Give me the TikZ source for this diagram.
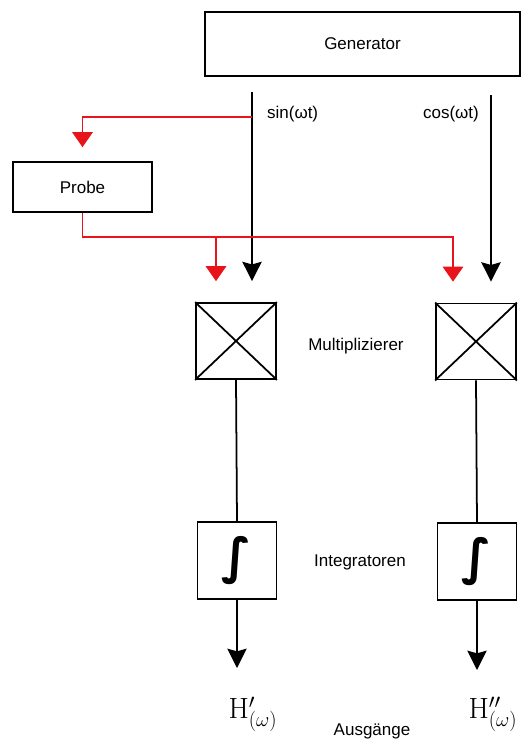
\documentclass[tikz,border=0pt]{standalone}
\usepackage[no-math]{fontspec}
\usepackage{fix-cm}
\setmainfont{Liberation Sans}
\newfontfamily\intfont{DejaVu Sans}
\usetikzlibrary{positioning,arrows.meta}
\definecolor{ProbeRed}{HTML}{E8141B}

\begin{document}
\begin{tikzpicture}[x=0.03cm,y=-0.03cm,>={Stealth[length=.58cm,width=.58cm,inset=.08cm]}]
\tikzstyle{block}=[draw,line width=1.5pt,inner sep=0pt]
\tikzstyle{mult}=[block,minimum width=2.4cm,minimum height=2.28cm]
\tikzstyle{integ}=[block,minimum width=2.37cm,minimum height=2.31cm,font=\intfont\bfseries\fontsize{42}{46}\selectfont]
\tikzstyle{sig}=[line width=1.5pt]
\tikzstyle{probeline}=[draw=ProbeRed,line width=1pt,-{Triangle[length=.45cm,width=.62cm]}]
\tikzstyle{lbl}=[font=\fontsize{14.5}{17}\selectfont]
\tikzstyle{outlbl}=[font=\fontsize{25}{29}\selectfont]
\useasboundingbox (0,0) rectangle (521,746);
% source and probe
\node[block,minimum width=9.45cm,minimum height=1.92cm,lbl] (gen) at (362.5,44) {Generator};
\node[block,minimum width=4.17cm,minimum height=1.5cm,lbl] (probe) at (82.5,187) {Probe};
\coordinate (sinA) at (252,92);
\coordinate (cosA) at (491,95);
\coordinate (tap) at (252,117);
\coordinate (busL) at (216,237);
\coordinate (busR) at (453,237);
\node[lbl,anchor=west] (sin) at (263,114) {sin(ωt)};
\node[lbl,anchor=east] (cos) at (483,114) {cos(ωt)};
% multipliers
\node[mult] (m1) at (236,341) {};
\node[mult] (m2) at (476,341.5) {};
\foreach \m in {m1,m2}{
  \draw[sig] (\m.north west)--(\m.south east) (\m.north east)--(\m.south west);
}
\node[lbl] (mlbl) at (356,346) {Multiplizierer};
% integrators
\node[integ] (i1) at (237,560.5) {∫};
\node[integ] (i2) at (477,561.5) {∫};
\node[lbl] (ilbl) at (360,562) {Integratoren};
% outputs
\coordinate (o1) at (237,668);
\coordinate (o2) at (477,670);
\node[outlbl] (h1) at (253,714) {$\mathrm{H}'_{(\omega)}$};
\node[outlbl] (h2) at (493,714) {$\mathrm{H}''_{(\omega)}$};
\node[lbl] (alb) at (372,731) {Ausgänge};
% signals
\draw[sig,->,shorten >=.63cm] (sinA) -- (sinA |- m1.north);
\draw[sig,->,shorten >=.63cm] (cosA) -- (cosA |- m2.north);
\draw[probeline,shorten >=.42cm] (tap) -| (probe.north);
\draw[probeline,shorten >=.63cm] (probe.south) |- (busR) -- (busR |- m2.north);
\draw[probeline,shorten >=.63cm] (busL) -- (busL |- m1.north);
\draw[sig] (m1.south) -- (i1.north);
\draw[sig] (m2.south) -- (i2.north);
\draw[sig,->] (i1.south) -- (o1);
\draw[sig,->] (i2.south) -- (o2);
\end{tikzpicture}
\end{document}
